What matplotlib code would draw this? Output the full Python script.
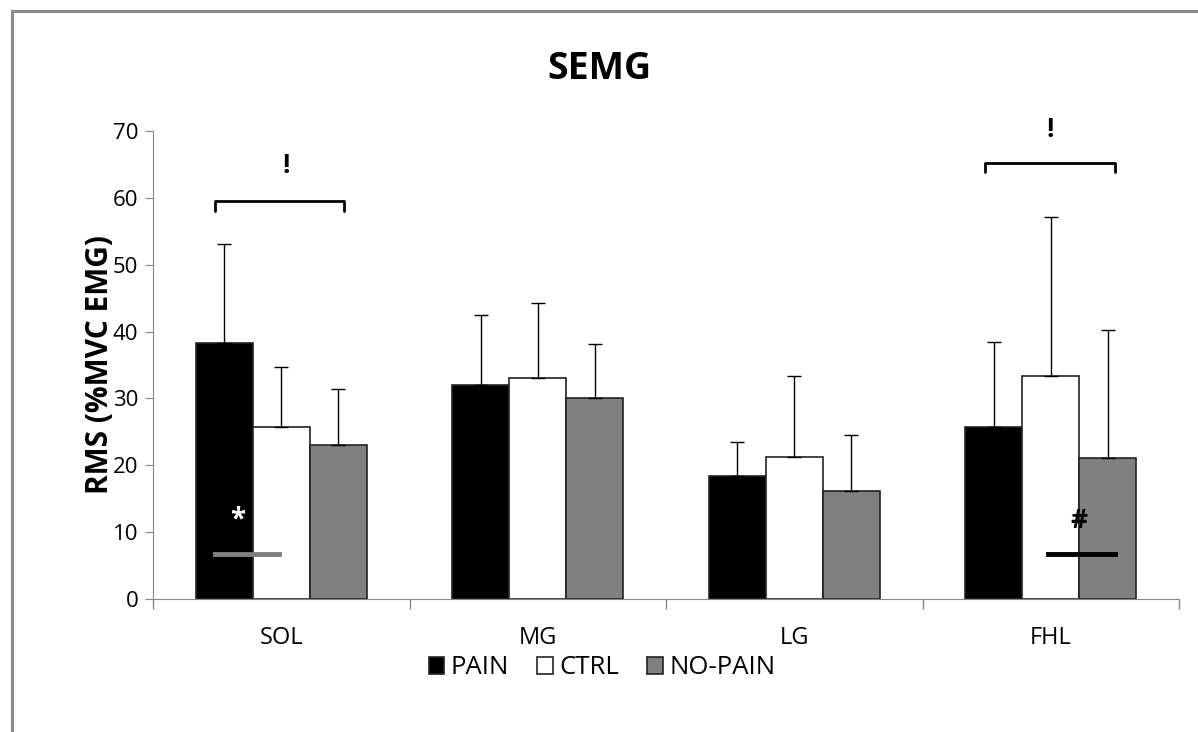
import numpy as np
import matplotlib
matplotlib.use('Agg')
from matplotlib import pyplot as plt
from matplotlib.patches import Rectangle

muscles = ['SOL', 'MG', 'LG', 'FHL']
groups = ['PAIN', 'CTRL', 'NO-PAIN']
pain = [38.3, 32.0, 18.4, 25.8]
pain_sd = [14.8, 10.5, 5.1, 12.6]
ctrl = [25.7, 33.0, 21.2, 33.3]
ctrl_sd = [9.0, 11.2, 12.1, 23.9]
nopain = [23.0, 30.0, 16.2, 21.1]
nopain_sd = [8.4, 8.2, 8.4, 19.2]

plt.rcParams['font.family'] = ['Open Sans', 'DejaVu Sans']

fig = plt.figure(figsize=(11.98, 7.32), dpi=100)
ax = fig.add_axes([153 / 1198, 1 - 599 / 732, 1026 / 1198, 468 / 732])

x = np.arange(len(muscles))
w = 1 / 4.5
colors = ['black', 'white', '#808080']
series = [(pain, pain_sd), (ctrl, ctrl_sd), (nopain, nopain_sd)]
for i, (vals, sd) in enumerate(series):
    pos = x + (i - 1) * w
    ax.bar(pos, vals, w, color=colors[i], edgecolor='#222222', linewidth=1.2,
           label=groups[i], zorder=2)
    ax.errorbar(pos, vals, yerr=[np.zeros(len(vals)), sd], fmt='none',
                ecolor='black', elinewidth=1, capsize=4.7, capthick=1, zorder=3)

ax.set_xlim(-0.5, 3.5)
ax.set_ylim(0, 70)
ax.set_yticks(range(0, 71, 10))
ax.set_xticks(x)
ax.set_xticklabels(muscles, fontsize=17)
ax.set_xticks(np.arange(-0.5, 3.6, 1), minor=True)
ax.tick_params(axis='x', which='major', length=0, pad=19.5)
ax.tick_params(axis='x', which='minor', length=7, color='#868686', width=1)
ax.tick_params(axis='y', length=6, color='#868686', labelsize=16, pad=4.5)
for s in ['top', 'right']:
    ax.spines[s].set_visible(False)
for s in ['left', 'bottom']:
    ax.spines[s].set_color('#868686')

fig.text(100 / 1198, 1 - 365 / 732, 'RMS (%MVC EMG)', rotation=90,
         ha='center', va='center', fontsize=21.5, fontweight='bold')
fig.text(599 / 1198, 1 - 69 / 732, 'SEMG', ha='center', va='center',
         fontsize=27, fontweight='bold')

# significance markers
def bracket(x0, x1, y, drop):
    ax.plot([x0, x0, x1, x1], [y - drop, y, y, y - drop], color='black',
            lw=2, clip_on=False, solid_capstyle='round', zorder=4)

bracket(-0.26, 0.245, 59.5, 1.4)
ax.text(0.02, 64.8, '!', ha='center', va='center', fontsize=19, fontweight='bold')
bracket(2.745, 3.25, 65.2, 1.4)
ax.text(3.0, 70.2, '!', ha='center', va='center', fontsize=19,
        fontweight='bold', clip_on=False)

ax.plot([-0.26, -0.01], [6.8, 6.8], color='#808080', lw=3.5, zorder=4)
ax.text(-0.17, 11.8, '*', ha='center', va='center', fontsize=20,
        fontweight='bold', color='white', zorder=4)
ax.plot([2.99, 3.25], [6.8, 6.8], color='black', lw=3.5, zorder=4)
ax.text(3.11, 11.7, '#', ha='center', va='center', fontsize=19,
        fontweight='bold', color='black', zorder=4)

leg = fig.legend(loc='center', bbox_to_anchor=(602 / 1198, 1 - 668 / 732), ncol=3,
                 frameon=False, fontsize=18.5, handlelength=0.6, handleheight=0.6,
                 handletextpad=0.25, columnspacing=1.1)

fig.patches.append(Rectangle((12 / 1198, -0.1), 1.2, 1.1 - 11 / 732,
                             transform=fig.transFigure, fill=False,
                             edgecolor='#8a8a8a', linewidth=2.2))

plt.savefig('out.png', dpi=100)
